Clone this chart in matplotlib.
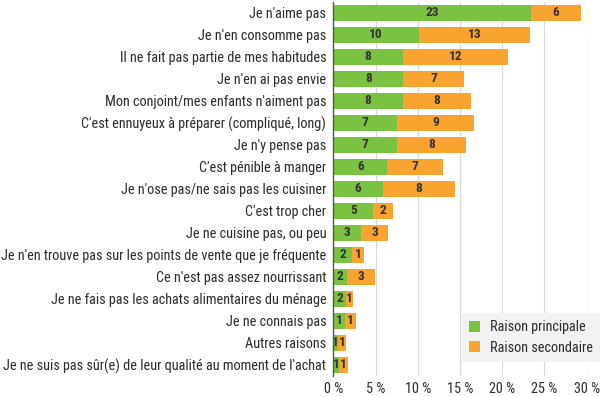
import matplotlib.pyplot as plt
from matplotlib import font_manager as fm
import numpy as np

# === données (en %) ===
raisons = [
    "Je n'aime pas",
    "Je n'en consomme pas",
    "Il ne fait pas partie de mes habitudes",
    "Je n'en ai pas envie",
    "Mon conjoint/mes enfants n'aiment pas",
    "C'est ennuyeux à préparer (compliqué, long)",
    "Je n'y pense pas",
    "C'est pénible à manger",
    "Je n'ose pas/ne sais pas les cuisiner",
    "C'est trop cher",
    "Je ne cuisine pas, ou peu",
    "Je n'en trouve pas sur les points de vente que je fréquente",
    "Ce n'est pas assez nourrissant",
    "Je ne fais pas les achats alimentaires du ménage",
    "Je ne connais pas",
    "Autres raisons",
    "Je ne suis pas sûr(e) de leur qualité au moment de l'achat",
]
principale = [23.4, 10.1, 8.25, 8.3, 8.2, 7.5, 7.5, 6.4, 5.9, 4.75, 3.3, 2.2, 1.6, 1.5, 1.4, 0.6, 0.7]
secondaire = [5.9, 13.2, 12.45, 7.2, 8.15, 9.2, 8.25, 6.6, 8.5, 2.35, 3.2, 1.45, 3.3, 0.8, 1.25, 0.87, 1.1]
lab_principale = [23, 10, 8, 8, 8, 7, 7, 6, 6, 5, 3, 2, 2, 2, 1, 1, 1]
lab_secondaire = [6, 13, 12, 7, 8, 9, 8, 7, 8, 2, 3, 1, 3, 1, 1, 1, 1]
graduations = [0, 5, 10, 15, 20, 25, 30]

VERT = "#7cc242"
ORANGE = "#f9a431"


# === police étroite si dispo ===
def trouve_police(candidats):
    for nom in candidats:
        for f in fm.fontManager.ttflist:
            if f.fname.split("/")[-1].lower() == nom.lower():
                return fm.FontProperties(fname=f.fname)
    return None


regular = trouve_police(["RobotoCondensed-Regular.ttf", "LiberationSansNarrow-Regular.ttf",
                         "DejaVuSansCondensed.ttf"])
bold = trouve_police(["RobotoCondensed-Bold.ttf", "LiberationSansNarrow-Bold.ttf",
                      "DejaVuSansCondensed-Bold.ttf"])
if regular is None:
    regular = fm.FontProperties(family="DejaVu Sans", stretch="condensed")
    taille = 7
else:
    taille = 10.3
if bold is None:
    bold = fm.FontProperties(family="DejaVu Sans", weight="bold", stretch="condensed")

fig = plt.figure(figsize=(6, 3.97), dpi=100)
ax = fig.add_axes([0.5555, 0.053, 0.4222, 0.942])

y = np.arange(len(raisons))
h = 0.72
ax.barh(y, principale, height=h, color=VERT, label="Raison principale", zorder=3)
ax.barh(y, secondaire, left=principale, height=h, color=ORANGE, label="Raison secondaire", zorder=3)

# === étiquettes des valeurs ===
for i in range(len(raisons)):
    p, s = principale[i], secondaire[i]
    ax.text(p / 2, i, str(lab_principale[i]), ha="center", va="center",
            fontproperties=bold, fontsize=taille - 0.7, color="#333333", zorder=4)
    ax.text(p + s / 2, i, str(lab_secondaire[i]), ha="center", va="center",
            fontproperties=bold, fontsize=taille - 0.7, color="#333333", zorder=4)

ax.set_yticks(y)
ax.set_yticklabels(raisons)
ax.set_ylim(len(raisons) - 0.5, -0.5)
ax.set_xlim(0, 30)
ax.set_xticks(graduations)
ax.set_xticklabels([f"{g} %" for g in graduations])
for t in ax.get_yticklabels() + ax.get_xticklabels():
    t.set_fontproperties(regular)
    t.set_fontsize(taille)
    t.set_color("#2b2b2b")
ax.tick_params(length=0)
ax.tick_params(axis="y", pad=5)
ax.tick_params(axis="x", pad=4)

ax.grid(axis="x", color="#d9d9d9", linewidth=0.9, zorder=0)
for side in ["top", "right", "bottom"]:
    ax.spines[side].set_visible(False)
ax.spines["left"].set_color("#555555")
ax.spines["left"].set_linewidth(1.0)
ax.spines["left"].set_zorder(5)

leg = ax.legend(loc="lower right", bbox_to_anchor=(1.08, 0.02),
                prop=regular, frameon=True, fancybox=False,
                handlelength=0.8, handleheight=0.8,
                handletextpad=0.7, borderpad=0.5, labelspacing=0.45)
for t in leg.get_texts():
    t.set_fontsize(taille)
    t.set_color("#2b2b2b")
leg.get_frame().set_facecolor("#f2f2f2")
leg.get_frame().set_edgecolor("none")
leg.get_frame().set_alpha(1)

fig.savefig("out.png", dpi=100)
